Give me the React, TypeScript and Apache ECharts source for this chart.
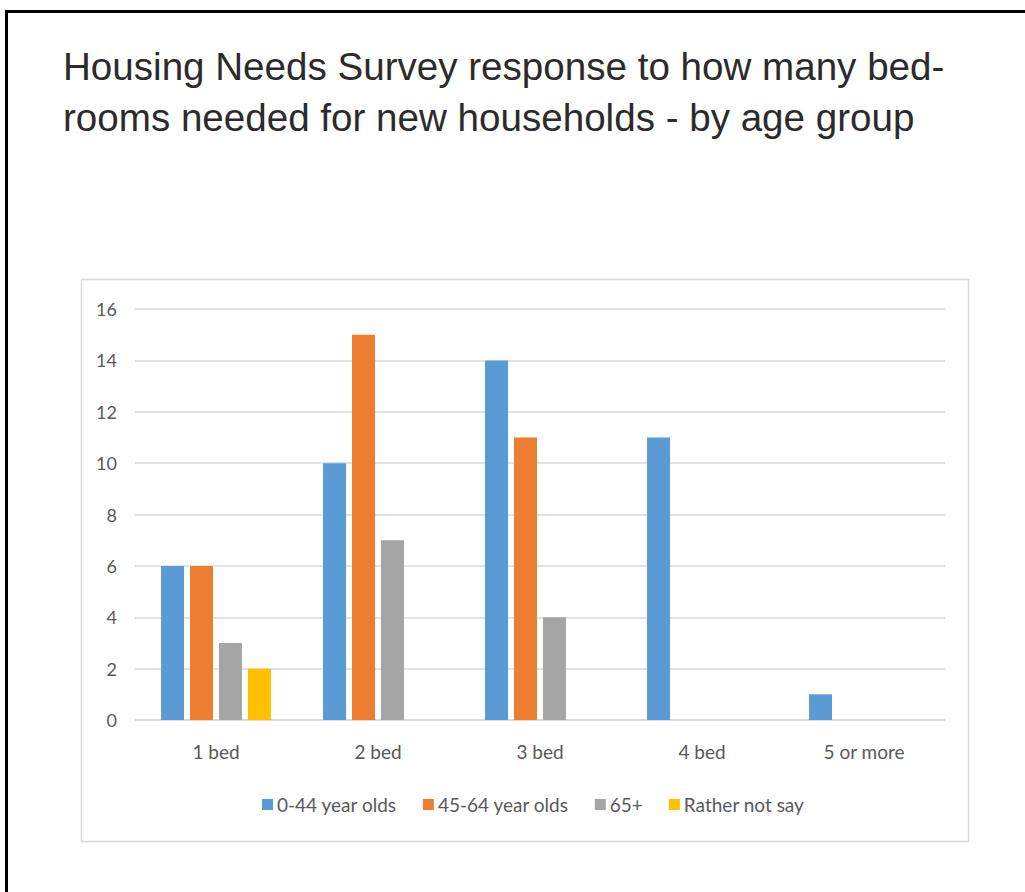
import React, { useEffect, useRef } from "react";
import * as echarts from "echarts";

const categories = ["1 bed", "2 bed", "3 bed", "4 bed", "5 or more"];
const age0to44 = [6, 10, 14, 11, 1];
const age45to64 = [6, 15, 11, 0, 0];
const age65plus = [3, 7, 4, 0, 0];
const ratherNotSay = [2, 0, 0, 0, 0];
const seriesNames = ["0-44 year olds", "45-64 year olds", "65+", "Rather not say"];
const colors = ["#5B9BD5", "#ED7D31", "#A5A5A5", "#FFC000"];
const titleText =
  "Housing Needs Survey response to how many bed-\nrooms needed for new households - by age group";

export default function App() {
  const ref = useRef<HTMLDivElement>(null);
  useEffect(() => {
    if (!ref.current) return;
    const chart = echarts.init(ref.current, null, { renderer: "svg" });
    const values = [age0to44, age45to64, age65plus, ratherNotSay];
    const font = "Lato, 'Open Sans', sans-serif";
    chart.setOption({
      animation: false,
      backgroundColor: "#ffffff",
      color: colors,
      title: {
        text: titleText,
        left: 58,
        top: 36,
        textStyle: {
          fontFamily: "'Liberation Sans', Arial, sans-serif",
          fontSize: 38.6,
          fontWeight: "normal",
          color: "#2b2b2b",
          lineHeight: 51,
        },
      },
      graphic: [
        {
          type: "rect",
          shape: { x: 6.5, y: 11.5, width: 1200, height: 1000 },
          style: { fill: "none", stroke: "#000000", lineWidth: 3 },
          silent: true,
        },
        {
          type: "rect",
          shape: { x: 81.5, y: 279.5, width: 887, height: 562 },
          style: { fill: "none", stroke: "#D9D9D9", lineWidth: 1.5 },
          silent: true,
        },
      ],
      legend: {
        left: 257,
        top: 790,
        itemWidth: 11,
        itemHeight: 11,
        itemGap: 26,
        icon: "rect",
        textStyle: { fontFamily: font, fontSize: 19, color: "#595959", padding: [0, 0, 0, -1] },
        data: seriesNames,
      },
      grid: { left: 135, right: 80, top: 309, bottom: 172, containLabel: false },
      xAxis: {
        type: "category",
        data: categories,
        axisLine: { lineStyle: { color: "#D9D9D9", width: 1.5 } },
        axisTick: { show: false },
        axisLabel: { color: "#595959", fontFamily: font, fontSize: 19, margin: 22 },
      },
      yAxis: {
        type: "value",
        min: 0,
        max: 16,
        interval: 2,
        axisLine: { show: false },
        axisTick: { show: false },
        splitLine: { lineStyle: { color: "#D9D9D9", width: 1.5 } },
        axisLabel: { color: "#595959", fontFamily: font, fontSize: 18, margin: 18 },
      },
      series: seriesNames.map((name, i) => ({
        name,
        type: "bar",
        data: values[i],
        barWidth: 23,
        barGap: "26%",
        itemStyle: { color: colors[i] },
      })),
    });
    return () => chart.dispose();
  }, []);
  return (
    <div
      ref={ref}
      style={{ position: "fixed", left: 0, top: 0, width: 1025, height: 892 }}
    />
  );
}
